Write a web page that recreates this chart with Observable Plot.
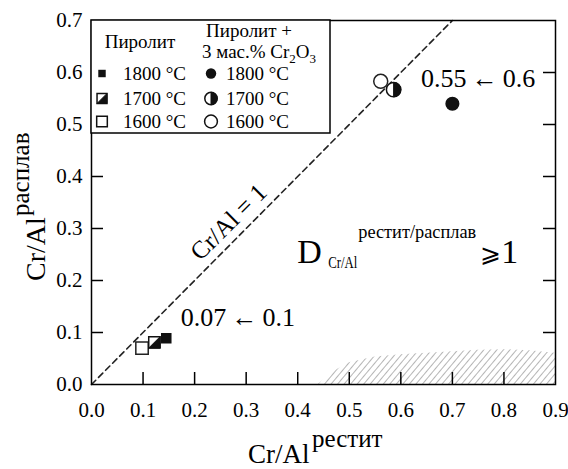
<!DOCTYPE html>
<html><head><meta charset="utf-8">
<script src="https://cdn.jsdelivr.net/npm/d3@7"></script>
<script src="https://cdn.jsdelivr.net/npm/@observablehq/plot@0.6"></script>
<style>body{margin:0;background:#fff} svg text{font-family:"Liberation Serif","Times New Roman",serif !important;}</style>
</head><body><div id="chart"></div>
<script>
// ---- data ----
const temps = ["1800 °C", "1700 °C", "1600 °C"];
const pyroliteX = [0.145, 0.122, 0.098];
const pyroliteY = [0.089, 0.081, 0.070];
const chromeX = [0.700, 0.586, 0.561];
const chromeY = [0.540, 0.567, 0.583];
const xTicks = [0, 0.1, 0.2, 0.3, 0.4, 0.5, 0.6, 0.7, 0.8, 0.9];
const yTicks = [0, 0.1, 0.2, 0.3, 0.4, 0.5, 0.6, 0.7];
const xInnerTicks = [0.1, 0.2, 0.3, 0.4, 0.5, 0.6, 0.7, 0.8];
const yInnerTicks = [0.1, 0.2, 0.3, 0.4, 0.5, 0.6];
const identityX = [0, 0.7];
const identityY = [0, 0.7];
const hatchX = [0.44, 0.47, 0.50, 0.55, 0.60, 0.65, 0.70, 0.75, 0.80, 0.85, 0.90];
const hatchY = [0.000, 0.025, 0.042, 0.053, 0.057, 0.060, 0.063, 0.066, 0.067, 0.065, 0.060];
const arrowLabels = ["0.55\u2009←\u20090.6", "0.07\u2009←\u20090.1"];
const arrowLabelX = [0.639, 0.173];
const arrowLabelY = [0.588, 0.129];

const FONT = "Liberation Serif, Times New Roman, serif";
const W = 568, H = 469;
const mL = 91, mR = 13, mT = 20, mB = 85;
const frameW = W - mL - mR, frameH = H - mT - mB;

const pyr = temps.map((t, i) => ({t, x: pyroliteX[i], y: pyroliteY[i]}));
const chr = temps.map((t, i) => ({t, x: chromeX[i], y: chromeY[i]}));
const hatch = hatchX.map((x, i) => ({x, y: hatchY[i]}));
const ident = identityX.map((x, i) => ({x, y: identityY[i]}));
const arrows = arrowLabels.map((s, i) => ({s, x: arrowLabelX[i], y: arrowLabelY[i]}));

const halfSquare = {draw(ctx, size) { const w = Math.sqrt(size) / 2; ctx.moveTo(w, -w); ctx.lineTo(w, w); ctx.lineTo(-w, w); ctx.closePath(); }};
const halfCircle = {draw(ctx, size) { const r = Math.sqrt(size / Math.PI); ctx.moveTo(0, -r); ctx.arc(0, 0, r, -Math.PI / 2, Math.PI / 2); ctx.closePath(); }};

const sel = (arr, t) => arr.filter(d => d.t === t);

const plot = Plot.plot({
  width: W, height: H,
  marginLeft: mL, marginRight: mR, marginTop: mT, marginBottom: mB,
  style: {fontFamily: FONT, fontSize: "21px", color: "black", background: "white"},
  x: {domain: [0, 0.9], label: null},
  y: {domain: [0, 0.7], label: null},
  marks: [
    Plot.areaY(hatch, {x: "x", y: "y", fill: "url(#hatch)"}),
    Plot.line(ident, {x: "x", y: "y", stroke: "#222", strokeWidth: 1.6, strokeDasharray: "6,4"}),
    Plot.tickX(xInnerTicks, {x: d => d, stroke: "black", strokeWidth: 1.5, insetTop: frameH - 12}),
    Plot.tickY(yInnerTicks, {y: d => d, stroke: "black", strokeWidth: 1.5, insetRight: frameW - 12}),
    Plot.tickY(yInnerTicks, {y: d => d, stroke: "black", strokeWidth: 1.5, insetLeft: frameW - 12}),
    Plot.axisX({ticks: xTicks, tickSize: 0, tickPadding: 18, tickFormat: d3.format(".1f"), fontSize: 21, fontFamily: FONT, fill: "black"}),
    Plot.axisY({ticks: yTicks, tickSize: 0, tickPadding: 9, tickFormat: d3.format(".1f"), fontSize: 21, fontFamily: FONT, fill: "black"}),
    Plot.frame({stroke: "black", strokeWidth: 1.5}),
    // pyrolite squares
    Plot.dot(sel(pyr, "1600 °C"), {x: "x", y: "y", symbol: "square", r: 7, fill: "white", stroke: "#222", strokeWidth: 1.5}),
    Plot.dot(sel(pyr, "1700 °C"), {x: "x", y: "y", symbol: "square", r: 6.4, fill: "white", stroke: "#111", strokeWidth: 1.5}),
    Plot.dot(sel(pyr, "1700 °C"), {x: "x", y: "y", symbol: halfSquare, r: 6.4, fill: "#111", stroke: "#111", strokeWidth: 1}),
    Plot.dot(sel(pyr, "1800 °C"), {x: "x", y: "y", symbol: "square", r: 5.1, fill: "#111", stroke: "#111"}),
    // Cr2O3 circles
    Plot.dot(sel(chr, "1600 °C"), {x: "x", y: "y", symbol: "circle", r: 7, fill: "white", stroke: "#222", strokeWidth: 1.5}),
    Plot.dot(sel(chr, "1700 °C"), {x: "x", y: "y", symbol: "circle", r: 7.2, fill: "white", stroke: "#111", strokeWidth: 1.5}),
    Plot.dot(sel(chr, "1700 °C"), {x: "x", y: "y", symbol: halfCircle, r: 7.2, fill: "#111", stroke: "#111", strokeWidth: 1}),
    Plot.dot(sel(chr, "1800 °C"), {x: "x", y: "y", symbol: "circle", r: 6.3, fill: "#111", stroke: "#111"}),
    Plot.text(arrows, {x: "x", y: "y", text: "s", textAnchor: "start", fontSize: 26, fontFamily: FONT, fill: "black"}),
    Plot.text(["Cr/Al = 1"], {x: () => 0.266, y: () => 0.312, text: d => d, rotate: -45, fontSize: 25, fontFamily: FONT, fill: "black"})
  ]
});

const svg = d3.select(plot);
const xs = plot.scale("x"), ys = plot.scale("y");
const X = v => xs.apply(v), Y = v => ys.apply(v);

// hatch pattern
const defs = svg.insert("defs", ":first-child");
const pat = defs.append("pattern").attr("id", "hatch").attr("patternUnits", "userSpaceOnUse")
  .attr("width", 5).attr("height", 5).attr("patternTransform", "rotate(40)");
pat.append("line").attr("x1", 0).attr("y1", 0).attr("x2", 0).attr("y2", 5)
  .attr("stroke", "#777").attr("stroke-width", 1.1);

const g = svg.append("g").attr("fill", "black").style("text-anchor", "start");

// legend box
const lx = X(0), ly = Y(0.7);
g.append("rect").attr("x", lx).attr("y", ly).attr("width", 239).attr("height", 113)
  .attr("fill", "white").attr("stroke", "black").attr("stroke-width", 1.5);
g.append("text").attr("x", lx + 49).attr("y", ly + 28).attr("font-size", 19).style("text-anchor", "middle").text("Пиролит");
g.append("text").attr("x", lx + 115).attr("y", ly + 17).attr("font-size", 19).text("Пиролит +");
const t2 = g.append("text").attr("x", lx + 111).attr("y", ly + 38).attr("font-size", 19);
t2.append("tspan").text("3 мас.% Cr");
t2.append("tspan").attr("font-size", 13).attr("dy", 5).text("2");
t2.append("tspan").attr("dy", -5).text("O");
t2.append("tspan").attr("font-size", 13).attr("dy", 5).text("3");

const rowY = [ly + 53.5, ly + 78.5, ly + 101.5];
const sqSym = [
  [{s: d3.symbolSquare, r: 4.2, fill: "#111"}],
  [{s: d3.symbolSquare, r: 5.6, fill: "white", sw: 1.5}, {s: halfSquare, r: 5.6, fill: "#111", sw: 1}],
  [{s: d3.symbolSquare, r: 6.0, fill: "white", sw: 1.5}]
];
const ciSym = [
  [{s: d3.symbolCircle, r: 5.2, fill: "#111"}],
  [{s: d3.symbolCircle, r: 6.2, fill: "white", sw: 1.5}, {s: halfCircle, r: 6.2, fill: "#111", sw: 1}],
  [{s: d3.symbolCircle, r: 6.4, fill: "white", sw: 1.5}]
];
temps.forEach((t, i) => {
  sqSym[i].forEach(o => g.append("path").attr("transform", `translate(${lx + 11},${rowY[i]})`)
    .attr("d", d3.symbol(o.s, o.r * o.r * Math.PI)()).attr("fill", o.fill).attr("stroke", "#111").attr("stroke-width", o.sw || 0));
  ciSym[i].forEach(o => g.append("path").attr("transform", `translate(${lx + 120},${rowY[i]})`)
    .attr("d", d3.symbol(o.s, o.r * o.r * Math.PI)()).attr("fill", o.fill).attr("stroke", "#111").attr("stroke-width", o.sw || 0));
  g.append("text").attr("x", lx + 32).attr("y", rowY[i] + 6.5).attr("font-size", 19).text(t);
  g.append("text").attr("x", lx + 135).attr("y", rowY[i] + 6.5).attr("font-size", 19).text(t);
});

// x-axis title
g.append("text").attr("x", 248).attr("y", 463).attr("font-size", 27).text("Cr/Al");
g.append("text").attr("x", 312).attr("y", 447).attr("font-size", 25).text("рестит");

// y-axis title
g.append("text").attr("transform", "translate(45,281) rotate(-90)").attr("font-size", 28).text("Cr/Al");
g.append("text").attr("transform", "translate(29,216) rotate(-90)").attr("font-size", 25).text("расплав");

// D expression
const dx0 = X(0.4), dy0 = Y(0.2327);
g.append("text").attr("x", dx0).attr("y", dy0).attr("font-size", 34).text("D");
g.append("text").attr("x", dx0 + 31).attr("y", dy0 + 5).attr("font-size", 16)
  .attr("textLength", 29).attr("lengthAdjust", "spacingAndGlyphs").text("Cr/Al");
g.append("text").attr("x", dx0 + 61).attr("y", dy0 - 25).attr("font-size", 19)
  .attr("textLength", 118).attr("lengthAdjust", "spacingAndGlyphs").text("рестит/расплав");
g.append("text").attr("x", dx0 + 183).attr("y", dy0 - 1).attr("font-size", 25).text("⩾");
g.append("text").attr("x", dx0 + 204).attr("y", dy0).attr("font-size", 34).text("1");

document.getElementById("chart").appendChild(plot);
</script>
</body></html>
